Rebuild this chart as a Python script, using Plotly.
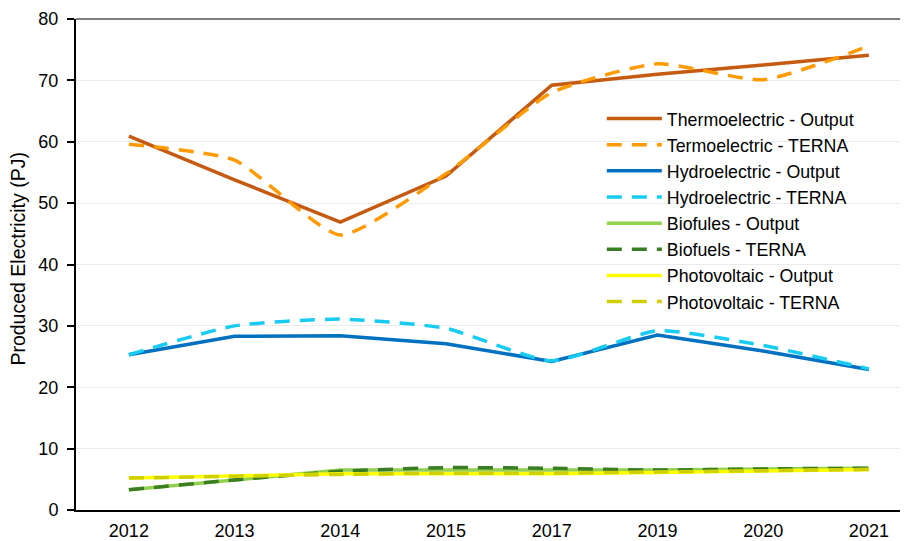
import plotly.graph_objects as go

years = ["2012", "2013", "2014", "2015", "2017", "2019", "2020", "2021"]
y_ticks = [0, 10, 20, 30, 40, 50, 60, 70, 80]

thermo_output = [60.9, 53.8, 46.9, 54.4, 69.2, 71.0, 72.5, 74.1]
thermo_terna = [59.6, 57.0, 44.8, 54.8, 68.0, 72.7, 70.1, 75.6]
hydro_output = [25.3, 28.3, 28.4, 27.1, 24.2, 28.5, 25.9, 22.9]
hydro_terna = [25.3, 30.0, 31.1, 29.6, 24.3, 29.2, 26.8, 23.0]
bio_output = [3.3, 4.9, 6.5, 6.5, 6.5, 6.5, 6.7, 6.8]
bio_terna = [3.3, 4.9, 6.3, 6.9, 6.8, 6.5, 6.7, 6.8]
pv_output = [5.2, 5.5, 5.9, 5.9, 5.9, 6.1, 6.4, 6.6]
pv_terna = [5.2, 5.5, 5.8, 6.0, 6.0, 6.2, 6.4, 6.6]

series = [
    ("Thermoelectric - Output", thermo_output, "#C55A11", False),
    ("Termoelectric - TERNA", thermo_terna, "#FF9A00", True),
    ("Hydroelectric - Output", hydro_output, "#0070C0", False),
    ("Hydroelectric - TERNA", hydro_terna, "#17CBF2", True),
    ("Biofules - Output", bio_output, "#92D050", False),
    ("Biofuels - TERNA", bio_terna, "#3A7D22", True),
    ("Photovoltaic - Output", pv_output, "#FFFF00", False),
    ("Photovoltaic - TERNA", pv_terna, "#D0D000", True),
]

fig = go.Figure()
for name, vals, color, dashed in series:
    line = dict(color=color, width=3.5)
    if dashed:
        line.update(dash="15px,10px", shape="spline", smoothing=0.55)
    fig.add_trace(go.Scatter(x=years, y=vals, name=name, mode="lines", line=line))

font_family = "Liberation Sans, Arial, sans-serif"
# page body has an 8px default margin, so the figure is 900x533
fig.update_layout(
    width=900, height=533,
    margin=dict(l=68, r=0, t=11, b=31, autoexpand=False),
    paper_bgcolor="white", plot_bgcolor="white",
    font=dict(family=font_family, size=18, color="#000000"),
    showlegend=True,
    legend=dict(
        x=0.632, y=0.834, xanchor="left", yanchor="top",
        bgcolor="rgba(255,255,255,0)",
        font=dict(size=17.8, family=font_family),
        itemwidth=55, tracegroupgap=0,
    ),
    xaxis=dict(
        type="category", range=[-0.5, 7.37],
        showline=True, linecolor="black", linewidth=2,
        showgrid=False, ticks="", tickfont=dict(size=18), automargin=False,
        ticklabelstandoff=3,
    ),
    yaxis=dict(
        range=[0, 80], tickvals=y_ticks,
        showline=True, linecolor="black", linewidth=2,
        showgrid=True, gridcolor="#EBEBEB", gridwidth=1,
        ticks="outside", ticklen=7, tickcolor="black", tickwidth=1.5,
        tickfont=dict(size=18), zeroline=False, automargin=False,
        ticklabelstandoff=5,
    ),
    shapes=[dict(type="line", xref="paper", yref="paper", x0=0, x1=1, y0=1, y1=1,
                 line=dict(color="black", width=1.2))],
    annotations=[dict(text="Produced Electricity (PJ)", textangle=-90,
                      xref="paper", yref="paper", x=-0.0697, y=0.51,
                      xanchor="center", yanchor="middle", showarrow=False,
                      font=dict(size=19.5, family=font_family, color="#000000"))],
)

fig.write_html("out.html")
